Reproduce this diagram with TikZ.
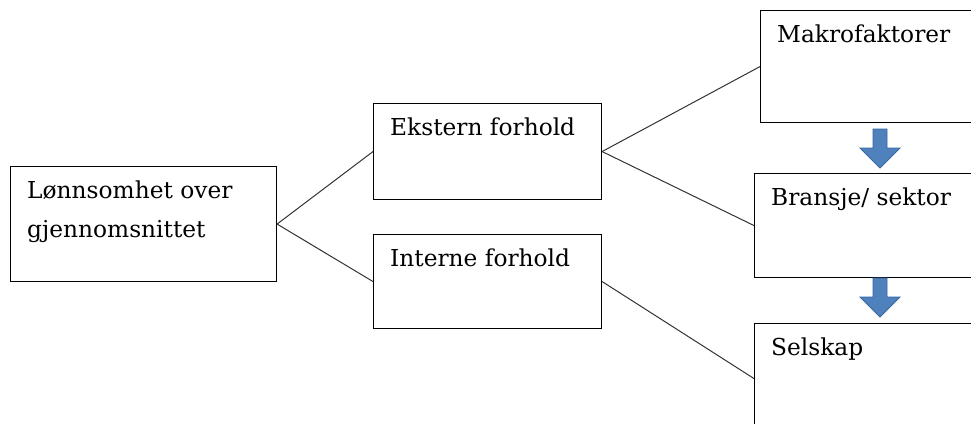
\documentclass[tikz,border=0pt]{standalone}
\usepackage{fontspec}
\setmainfont{DejaVu Serif}
\definecolor{pilblaa}{HTML}{4F81BD}
\definecolor{pilkant}{HTML}{3A66A0}

\begin{document}
\begin{tikzpicture}[x=1pt,y=-1pt,
		boks/.style={draw,line width=1.1pt,anchor=north west,inner sep=0pt},
		tekst/.style={anchor=north west,inner sep=0pt,xshift=17pt,yshift=-15pt,align=left,font=\rmfamily\fontsize{23.3}{39}\selectfont},
		linje/.style={line width=1pt,draw=black!80},
		pil/.style={fill=pilblaa,draw=pilkant,line width=0.8pt}]
		\useasboundingbox (0,0) rectangle (971,423);
		\clip (0,0) rectangle (971,423);
		%boksene
		\node (lonn) at(10,166) [boks,minimum width=266pt,minimum height=115pt,label={[tekst]north west:Lønnsomhet over\\gjennomsnittet}] {} ;
		\node (ekst) at(373,103) [boks,minimum width=228pt,minimum height=96pt,label={[tekst]north west:Ekstern forhold}] {} ;
		\node (int) at(373,234) [boks,minimum width=228pt,minimum height=94pt,label={[tekst]north west:Interne forhold}] {} ;
		\node (makro) at(760,10) [boks,minimum width=260pt,minimum height=112pt,label={[tekst]north west:Makrofaktorer}] {} ;
		\node (bransje) at(754,173) [boks,minimum width=260pt,minimum height=104pt,label={[tekst]north west:Bransje/ sektor}] {} ;
		\node (selskap) at(754,323) [boks,minimum width=260pt,minimum height=110pt,label={[tekst]north west:Selskap}] {} ;

		%linjene
		\path
		(lonn.east) edge[linje] (ekst.west)
		(lonn.east) edge[linje] (int.west)
		(ekst.east) edge[linje] (makro.west)
		(ekst.east) edge[linje] (bransje.west)
		(int.east) edge[linje] (selskap.west)
		;

		%blaa piler
		\foreach \y in {129,278}
		\draw[pil] (873,\y) -- (887,\y) -- (887,\y+19) -- (900,\y+19) -- (880,\y+39) -- (860,\y+19) -- (873,\y+19) -- cycle;
\end{tikzpicture}
\end{document}
